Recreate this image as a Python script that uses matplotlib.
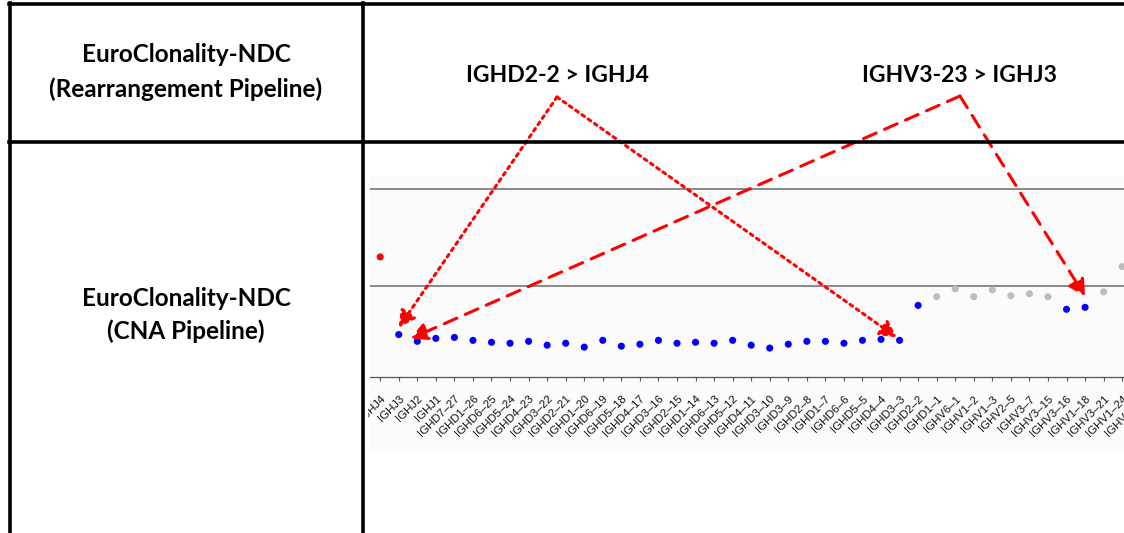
import matplotlib.pyplot as plt
import matplotlib.transforms as mtransforms
from matplotlib.lines import Line2D
from matplotlib.patches import Rectangle

# segment names along the IGH locus (last one is cut by the screenshot edge)
segments = ["IGHJ4", "IGHJ3", "IGHJ2", "IGHJ1", "IGHD7–27", "IGHD1–26", "IGHD6–25",
            "IGHD5–24", "IGHD4–23", "IGHD3–22", "IGHD2–21", "IGHD1–20", "IGHD6–19",
            "IGHD5–18", "IGHD4–17", "IGHD3–16", "IGHD2–15", "IGHD1–14", "IGHD6–13",
            "IGHD5–12", "IGHD4–11", "IGHD3–10", "IGHD3–9", "IGHD2–8", "IGHD1–7",
            "IGHD6–6", "IGHD5–5", "IGHD4–4", "IGHD3–3", "IGHD2–2", "IGHD1–1",
            "IGHV6–1", "IGHV1–2", "IGHV1–3", "IGHV2–5", "IGHV3–7", "IGHV3–15",
            "IGHV3–16", "IGHV1–18", "IGHV3–21", "IGHV1–24", "IGHV2–26"]

# copy-number ratio per segment (arbitrary units, reference lines at 0 and 1)
ratios = [0.30, -0.50, -0.57, -0.54, -0.53, -0.56, -0.58, -0.59, -0.57, -0.61,
          -0.59, -0.63, -0.56, -0.62, -0.60, -0.56, -0.59, -0.58, -0.59, -0.56,
          -0.61, -0.64, -0.60, -0.57, -0.57, -0.59, -0.56, -0.55, -0.56, -0.20,
          -0.11, -0.03, -0.11, -0.04, -0.10, -0.08, -0.11, -0.24, -0.22, -0.06,
          0.20]

calls = ["gain"] + ["loss"] * 29 + ["normal"] * 7 + ["loss"] * 2 + ["normal"] * 2

ref_lines = [0.0, 1.0]

row_labels = ["EuroClonality-NDC\n(Rearrangement Pipeline)",
              "EuroClonality-NDC\n(CNA Pipeline)"]
events = ["IGHD2-2 > IGHJ4", "IGHV3-23 > IGHJ3"]

call_colors = {"gain": "#ff0000", "loss": "#0000ff", "normal": "#bdbdbd"}

W, H = 1124, 533
fig = plt.figure(figsize=(W / 100, H / 100), dpi=100)


def fx(px):
    return px / W


def fy(py):
    return 1 - py / H


# faint panel behind the plot, as in the screenshot
fig.add_artist(Rectangle((fx(370), fy(450)), fx(1124) - fx(370), fy(177) - fy(450),
                         transform=fig.transFigure, color="#fbfbfb", zorder=-1))

ax = fig.add_axes([fx(370), fy(377), 780 / W, 200 / H])
ax.set_facecolor("none")
ax.set_xlim(-0.55, 41.5)
ax.set_ylim(-0.938, 1.124)

for y in ref_lines:
    ax.axhline(y, color="#808080", lw=1.3, zorder=1)

xs = list(range(len(ratios)))
ax.scatter(xs, ratios, s=26, c=[call_colors[c] for c in calls], linewidths=0, zorder=3)

ax.set_xticks(range(len(segments)))
ax.set_xticklabels(segments, rotation=45, ha="right", va="top", rotation_mode="anchor",
                   fontsize=8.2, family="Liberation Sans", color="#111111")
ax.tick_params(axis="x", length=3, width=0.8, color="#555555", pad=9)
ax.set_yticks([])
for side in ["top", "right", "left"]:
    ax.spines[side].set_visible(False)
ax.spines["bottom"].set_color("#555555")
ax.spines["bottom"].set_linewidth(0.9)

# white left column hides the label that spills past the plot edge
fig.add_artist(Rectangle((0, 0), fx(367), 1, transform=fig.transFigure,
                         color="white", zorder=2))

# table grid
grid_kw = dict(transform=fig.transFigure, color="black", lw=2.6, zorder=4)
fig.add_artist(Line2D([fx(10), fx(10)], [fy(3), 0], **grid_kw))
fig.add_artist(Line2D([fx(9), 1], [fy(4), fy(4)], **grid_kw))
fig.add_artist(Line2D([fx(363), fx(363)], [fy(3), 0], **grid_kw))
fig.add_artist(Line2D([fx(9), 1], [fy(142), fy(142)], **grid_kw))

font = ["Lato", "DejaVu Sans"]
fig.text(fx(186), fy(72), row_labels[0], ha="center", va="center", fontsize=17.5,
         weight="bold", family=font, linespacing=1.6, zorder=5)
fig.text(fx(186), fy(315), row_labels[1], ha="center", va="center", fontsize=17.5,
         weight="bold", family=font, linespacing=1.45, zorder=5)
fig.text(fx(557), fy(75), events[0], ha="center", va="center", fontsize=16.6,
         weight="bold", family=font, zorder=5)
fig.text(fx(960), fy(75), events[1], ha="center", va="center", fontsize=16.6,
         weight="bold", family=font, zorder=5)


def point_offset(dx, dy):
    # data point shifted by a few pixels
    return ax.transData + mtransforms.ScaledTranslation(dx / 100, dy / 100, fig.dpi_scale_trans)


def arrow(target, apex, style, dx, dy):
    i = segments.index(target)
    ax.annotate("", xy=(i, ratios[i]), xycoords=point_offset(dx, dy),
                xytext=(apex[0], H - apex[1]), textcoords="figure pixels",
                annotation_clip=False, zorder=6,
                arrowprops=dict(arrowstyle="-|>,head_length=0.7,head_width=0.38",
                                mutation_scale=14, color="#ff0000", lw=2.2, ls=style,
                                shrinkA=0, shrinkB=0))


dotted = (0, (1, 1.5))
dashed = (0, (4.5, 3))
arrow("IGHJ3", (557, 97), dotted, 0, 7)
arrow("IGHD3–3", (557, 97), dotted, -3, 3)
arrow("IGHJ3", (960, 96), dashed, 12, -4)
arrow("IGHV1–18", (960, 96), dashed, 0, 11)

fig.savefig("out.png", dpi=100)
